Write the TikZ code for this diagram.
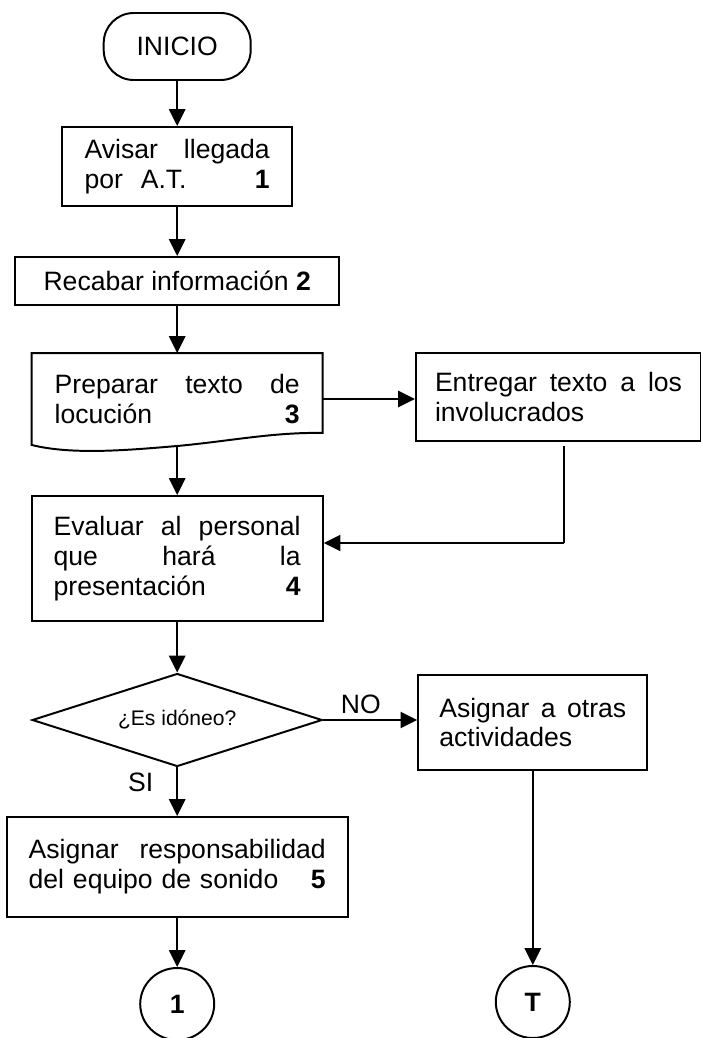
\documentclass[tikz,border=0pt]{standalone}
\usepackage{fontspec}
\setmainfont{Liberation Sans}
\usepackage{xcolor}
\usetikzlibrary{shapes.geometric,arrows.meta,calc}
\newcommand{\boxfont}{\fontsize{18.9}{21.3}\selectfont}
\newcommand{\askfont}{\fontsize{15}{18}\selectfont}
\colorlet{box edge}{black}
\tikzset{process/.style={draw=box edge, line width=1.4pt, align=left, font=\boxfont},
    terminal/.style={draw=box edge, line width=1.4pt, rounded corners=0.75cm, font=\boxfont},
    decision/.style={diamond, draw=box edge, line width=1.4pt, inner sep=0pt, aspect=3.12, font=\askfont},
    connector/.style={ellipse, draw=box edge, line width=1.4pt, inner sep=0pt,
        minimum width=1.85cm, minimum height=1.8cm, font=\boxfont\bfseries},
    flow/.style={line width=1.8pt, -{Triangle[length=0.42cm,width=0.4cm]}},
    thinflow/.style={line width=1.1pt},
    label/.style={font=\boxfont}}

\begin{document}
\begin{tikzpicture}
    \useasboundingbox (0,0) rectangle (17.525,-25.95);

    \node[terminal, minimum width=3.675cm, minimum height=1.675cm] (inicio) at (4.43,-1.1625) {INICIO};
    \node[process, text width=4.625cm, minimum width=5.75cm, minimum height=1.975cm] (avisar) at (4.43,-4.1625)
        {Avisar\hfill llegada\\ por\ \ A.T.\hfill\textbf{1}};
    \node[process, align=center, minimum width=8.1cm, minimum height=1.2cm] (recabar) at (4.43,-7.025)
        {Recabar información~\textbf{2}};
    \node[process, draw=none, text width=6.125cm, minimum width=7.225cm, minimum height=2.25cm] (preparar) at (4.43,-9.975)
        {Preparar\hfill texto\hfill de\\ locución\hfill\textbf{3}};
    \coordinate (wave) at (4.43,-11.15);
    \draw[draw=box edge, line width=1.4pt] (preparar.south west)
        .. controls (1.82,-11.38) and (3.23,-11.25) .. (wave)
        .. controls (5.73,-11.03) and (6.85,-10.8) .. ($(preparar.south east)+(0,0.3)$)
        -- (preparar.north east) -- (preparar.north west) -- cycle;
    \node[process, text width=6.175cm, minimum width=7.125cm, minimum height=2.2cm] (entregar) at (13.9625,-9.925)
        {Entregar\hfill texto\hfill a\hfill los\\ involucrados};
    \node[process, text width=6.175cm, minimum width=7.275cm, minimum height=3.125cm] (evaluar) at (4.43,-13.9625)
        {Evaluar\hfill al\hfill personal\\ que\hfill hará\hfill la\\ presentación\hfill\textbf{4}};
    \node[decision, minimum width=7.25cm, minimum height=2.325cm] (idoneo) at (4.43,-18) {¿Es idóneo?};
    \node[process, text width=4.675cm, minimum width=5.725cm, minimum height=2.375cm] (otras) at (13.32,-18.0625)
        {Asignar\hfill a\hfill otras\\ actividades};
    \node[process, text width=7.425cm, minimum width=8.525cm, minimum height=2.5cm] (asignar) at (4.43,-21.675)
        {Asignar\hfill responsabilidad\\ del equipo de sonido\hfill\textbf{5}};
    \node[connector] (uno) at (4.43,-25.1) {1};
    \node[connector] (fin) at (13.32,-25.05) {T};

    \draw[flow] (inicio) -- (avisar);
    \draw[flow] (avisar) -- (recabar);
    \draw[flow] (recabar) -- (preparar.north);
    \draw[flow] (preparar.east) -- (preparar.east -| entregar.west);
    \draw[flow] (wave) -- (evaluar);
    \coordinate (bend) at ($(entregar.south)+(0.14,-2.525)$);
    \draw[thinflow] ($(entregar.south)+(0.14,-0.1)$) -- (bend);
    \draw[flow] (bend) -- (bend -| evaluar.east);
    \draw[flow] (evaluar) -- (idoneo);
    \draw[flow] (idoneo.east) -- (idoneo.east -| otras.west) node[label, above, pos=0.4] {NO};
    \draw[flow] (idoneo.south) -- (asignar.north) node[label, left, pos=0.3, xshift=-0.45cm] {SI};
    \draw[flow] (asignar) -- (uno);
    \draw[flow] (otras) -- (fin);
\end{tikzpicture}
\end{document}
